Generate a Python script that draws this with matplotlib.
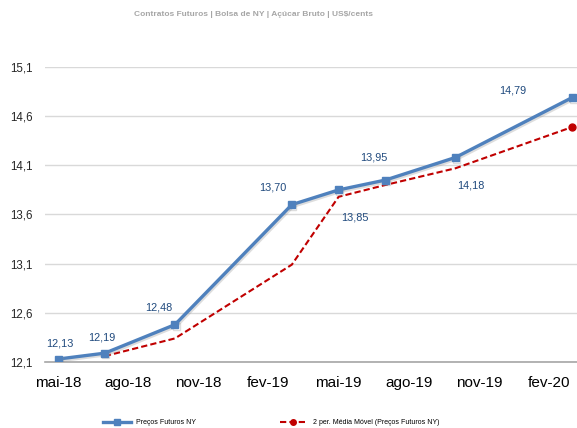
import numpy as np
import matplotlib
matplotlib.use("Agg")
import matplotlib.pyplot as plt
import matplotlib.patheffects as pe
from matplotlib.lines import Line2D

plt.rcParams['font.family'] = ['Liberation Sans', 'DejaVu Sans']

# months counted from mai-18
tick_pos = [0, 3, 6, 9, 12, 15, 18, 21]
tick_labels = ['mai-18', 'ago-18', 'nov-18', 'fev-19', 'mai-19', 'ago-19', 'nov-19', 'fev-20']

months = [0, 2, 5, 10, 12, 14, 17, 22]
precos = [12.13, 12.19, 12.48, 13.70, 13.85, 13.95, 14.18, 14.79]
labels = ['12,13', '12,19', '12,48', '13,70', '13,85', '13,95', '14,18', '14,79']
# offsets of the data labels (points)
lab_off = [(1, 11), (-2, 11), (-12, 12), (-14, 12), (12, -20), (-8, 16), (11, -20), (-43, 5)]

mm_months = [2, 5, 10, 12, 14, 17, 22]
media_movel = [12.16, 12.34, 13.09, 13.78, 13.90, 14.07, 14.49]

yticks = [12.1, 12.6, 13.1, 13.6, 14.1, 14.6, 15.1]

blue = '#4F81BD'
red = '#C00000'

fig = plt.figure(figsize=(5.77, 4.28), dpi=100)
ax = fig.add_axes([0.078, 0.1542, 0.922, 0.6893])

ax.plot(mm_months, media_movel, color=red, lw=1.5, ls=(0, (3, 1.5)), zorder=2)
ax.plot(mm_months[-1:], media_movel[-1:], 'o', color=red, ms=5, zorder=3)
ax.plot(months, precos, color=blue, lw=2.4, marker='s', ms=5, zorder=4,
        path_effects=[pe.SimpleLineShadow(offset=(0.8, -1.2), shadow_color='#909090', alpha=0.3),
                      pe.Normal()])

for x, y, t, off in zip(months, precos, labels, lab_off):
    ax.annotate(t, (x, y), xytext=off, textcoords='offset points', ha='center', va='center',
                fontsize=7.8, color='#1F497D')

ax.set_xlim(-0.56, 22.2)
ax.set_ylim(12.1, 15.1)
ax.set_yticks(yticks)
ax.set_yticklabels([f'{v:.1f}'.replace('.', ',') for v in yticks], fontsize=8.3, color='#262626')
ax.set_xticks(tick_pos)
ax.set_xticklabels(tick_labels, fontsize=11, color='#000000')
ax.tick_params(axis='y', length=0, pad=9)
ax.tick_params(axis='x', length=0, pad=10)
ax.grid(axis='y', color='#D9D9D9', lw=1)
for s in ['top', 'right', 'left']:
    ax.spines[s].set_visible(False)
ax.spines['bottom'].set_color('#A6A6A6')
ax.spines['bottom'].set_linewidth(1.2)
ax.set_axisbelow(True)

fig.text(0.44, 0.967, 'Contratos Futuros | Bolsa de NY | Açúcar Bruto | US$/cents',
         ha='center', va='center', fontsize=6, color='#A6A6A6', fontweight='bold')

h2 = [Line2D([], [], color=blue, lw=2.4, marker='s', ms=4),
      Line2D([], [], color=red, lw=1.5, ls=(0, (3, 1.5)), marker='o', ms=4, markevery=[1])]
fig.legend(h2, ['Preços Futuros NY', '2 per. Média Móvel (Preços Futuros NY)'],
           loc='lower center', bbox_to_anchor=(0.47, -0.01), ncol=2, fontsize=5,
           frameon=False, handlelength=4, columnspacing=12)

fig.savefig('out.png', dpi=100)
